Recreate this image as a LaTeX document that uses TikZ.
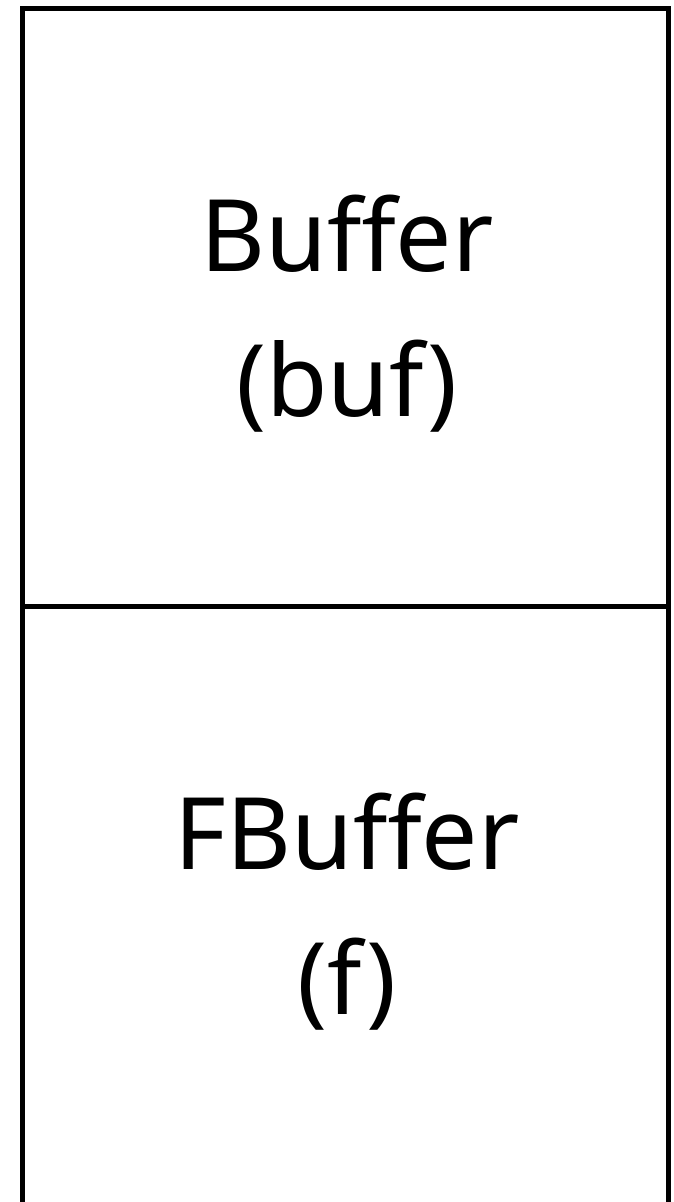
\documentclass[tikz,border=0pt]{standalone}
\usepackage{fontspec}
\setmainfont{Noto Sans}
\begin{document}
\begin{tikzpicture}[x=1pt,y=1pt,
  frame/.style={line width=5pt,black},
  label/.style={inner sep=0pt,anchor=base,font=\fontsize{100}{145}\selectfont}]
\useasboundingbox (0,0) rectangle (674,1202);
\coordinate (tl) at (22.5,1193.5);
\coordinate (tr) at (668.5,1193.5);
\coordinate (ml) at (22.5,595.5);
\coordinate (mr) at (668.5,595.5);
\coordinate (bl) at (22.5,-5);
\coordinate (br) at (668.5,-5);
\draw[frame] (bl) -- (tl) -- (tr) -- (br);
\draw[frame] ([xshift=-2.5pt]ml) -- ([xshift=2.5pt]mr);
\node[label] (buf1) at (347,930) {Buffer};
\node[label] (buf2) at (347,785) {(buf)};
\node[label] (fb1) at (347,332) {FBuffer};
\node[label] (fb2) at (347,187) {(f)};
\end{tikzpicture}
\end{document}
